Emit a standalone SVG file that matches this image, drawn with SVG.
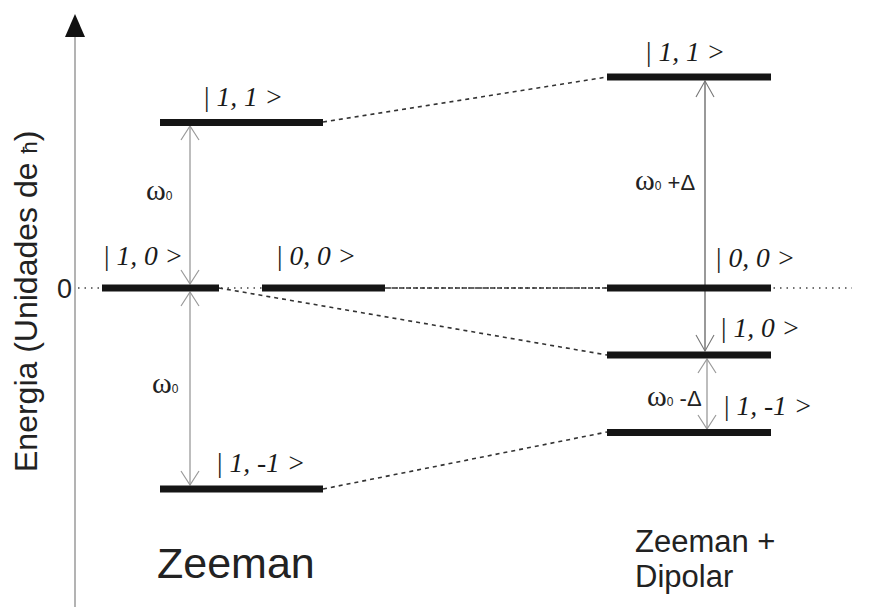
<svg xmlns="http://www.w3.org/2000/svg" width="869" height="607" viewBox="0 0 869 607">
<style>
.bar{fill:#151515}
.st{font-family:"Liberation Serif",serif;font-style:italic;font-size:27.5px;fill:#1a1a1a}
.w{font-family:"Liberation Serif",serif;font-size:30px;fill:#222}
.sub{font-family:"Liberation Sans",sans-serif;font-size:12px;fill:#222}
.sans{font-family:"Liberation Sans",sans-serif;fill:#222}
.dash{stroke:#333;stroke-width:1.6;fill:none;stroke-dasharray:4 4}
.dot{stroke:#444;stroke-width:1.4;fill:none;stroke-dasharray:1.5 5}
.ag{stroke:#9a9a9a;stroke-width:1.3;fill:none;marker-start:url(#mg);marker-end:url(#mg)}
.ad{stroke:#555;stroke-width:1.2;fill:none;marker-start:url(#md);marker-end:url(#md)}
</style>
<defs>
<marker id="mg" markerUnits="userSpaceOnUse" viewBox="0 -10 16 20" markerWidth="16" markerHeight="20" refX="15" refY="0" orient="auto-start-reverse">
<path d="M1,-9 L15,0 L1,9" fill="none" stroke="#9a9a9a" stroke-width="1.2"/>
</marker>
<marker id="md" markerUnits="userSpaceOnUse" viewBox="0 -10 18 20" markerWidth="18" markerHeight="20" refX="17" refY="0" orient="auto-start-reverse">
<path d="M1,-9 L17,0 L1,9" fill="none" stroke="#777" stroke-width="1.1"/>
</marker>
</defs>
<rect width="869" height="607" fill="#fff"/>
<g id="axis">
<line x1="75" y1="30" x2="75" y2="607" stroke="#9a9a9a" stroke-width="1.5"/>
<polygon points="75,14 65,37 85,37" fill="#111"/>
<text class="sans" font-size="32" fill="#333" transform="translate(37,472) rotate(-90)">Energia (Unidades de <tspan font-size="22">ħ</tspan>)</text>
<text class="sans" x="57" y="298" font-size="27">0</text>
</g>
<g id="connectors">
<line class="dot" x1="78" y1="288" x2="852" y2="288"/>
<line class="dash" x1="385" y1="288" x2="607" y2="288" style="stroke-dasharray:5 2"/>
<line class="dash" x1="323" y1="122" x2="607" y2="77"/>
<line class="dash" x1="219" y1="288" x2="607" y2="355"/>
<line class="dash" x1="323" y1="489" x2="607" y2="432"/>
<line class="ag" x1="190" y1="126" x2="190" y2="284"/>
<line class="ag" x1="190" y1="292" x2="190" y2="485"/>
<line class="ad" x1="705" y1="81" x2="705" y2="351"/>
<line class="ag" x1="707" y1="359" x2="707" y2="429"/>
</g>
<g id="z11"><rect class="bar" x="160" y="119" width="163" height="7"/><text class="st" x="204" y="106"><tspan font-style="normal">|</tspan> 1, 1 &gt;</text></g>
<g id="z10"><rect class="bar" x="102" y="284.5" width="117" height="7"/><text class="st" x="104" y="265"><tspan font-style="normal">|</tspan> 1, 0 &gt;</text></g>
<g id="z00"><rect class="bar" x="262" y="284.5" width="123" height="7"/><text class="st" x="277" y="265"><tspan font-style="normal">|</tspan> 0, 0 &gt;</text></g>
<g id="z1m1"><rect class="bar" x="160" y="485.5" width="163" height="7"/><text class="st" x="217" y="472"><tspan font-style="normal">|</tspan> 1, -1 &gt;</text></g>
<g id="r11"><rect class="bar" x="607" y="73.5" width="164" height="7"/><text class="st" x="646" y="61"><tspan font-style="normal">|</tspan> 1, 1 &gt;</text></g>
<g id="r00"><rect class="bar" x="607" y="284.5" width="164" height="7"/><text class="st" x="716" y="267"><tspan font-style="normal">|</tspan> 0, 0 &gt;</text></g>
<g id="r10"><rect class="bar" x="607" y="351.5" width="164" height="7"/><text class="st" x="721" y="337"><tspan font-style="normal">|</tspan> 1, 0 &gt;</text></g>
<g id="r1m1"><rect class="bar" x="607" y="429" width="164" height="7"/><text class="st" x="724" y="415"><tspan font-style="normal">|</tspan> 1, -1 &gt;</text></g>
<g id="labels">
<text class="w" x="146" y="200">ω<tspan class="sub">0</tspan></text>
<text class="w" x="152" y="393">ω<tspan class="sub">0</tspan></text>
<text class="w" x="635" y="190">ω<tspan class="sub">0</tspan><tspan class="sans" font-size="22"> +Δ</tspan></text>
<text class="w" x="647" y="406">ω<tspan class="sub">0</tspan><tspan class="sans" font-size="22"> -Δ</tspan></text>
<text class="sans" x="157" y="578" font-size="43">Zeeman</text>
<text class="sans" x="635" y="552" font-size="31">Zeeman +</text>
<text class="sans" x="635" y="587" font-size="31">Dipolar</text>
</g>
</svg>
